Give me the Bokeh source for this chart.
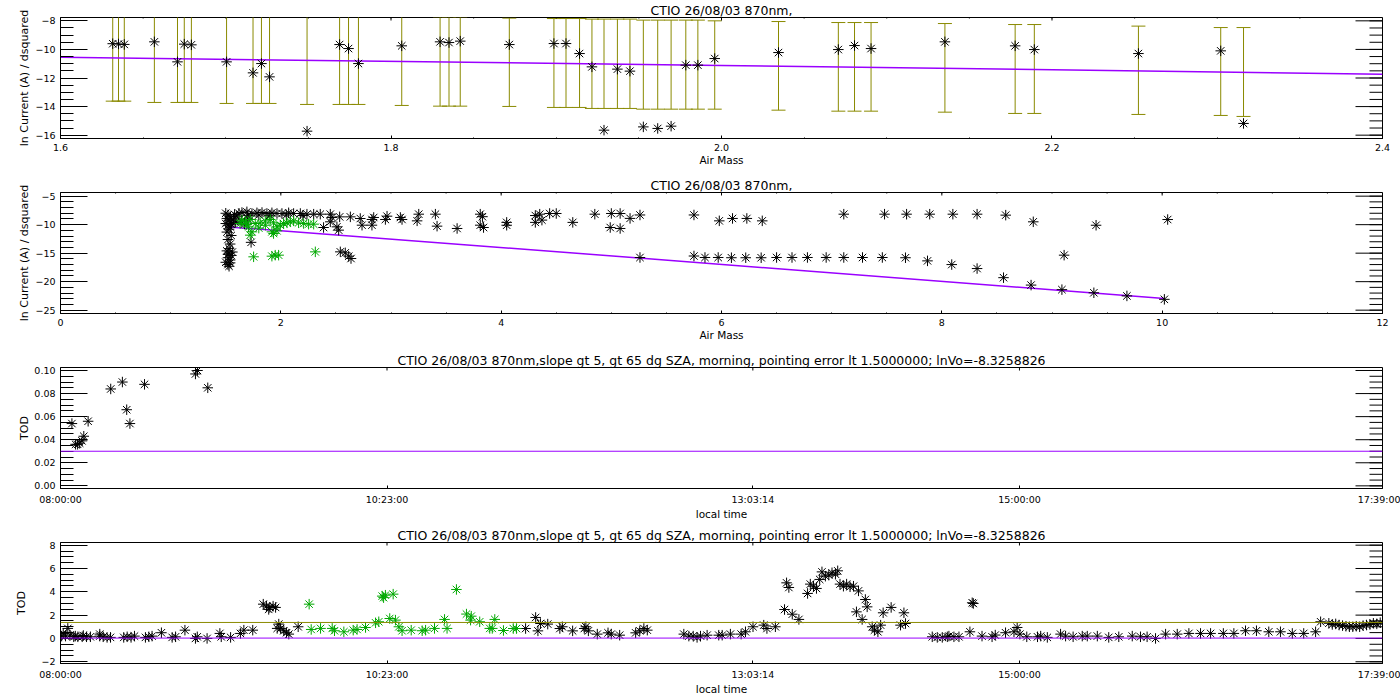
from bokeh.plotting import figure
from bokeh.models import (Range1d, Span, FixedTicker, SingleIntervalTicker, PrintfTickFormatter)
from bokeh.layouts import column
from bokeh.embed import file_html
from bokeh.resources import INLINE

# ---------------- texts ----------------
title_short = "CTIO 26/08/03 870nm,"
title_long = ("CTIO 26/08/03 870nm,slope gt 5, gt 65 dg SZA, morning, "
              "pointing error lt 1.5000000; lnVo=-8.3258826")
ylab_current = "ln Current (A) / dsquared"
xlab_airmass = "Air Mass"
ylab_tod = "TOD"
xlab_time = "local time"

# ---------------- panel 1: air mass vs ln current with error bars ----------------
am1 = [1.6316, 1.6351, 1.6386, 1.6568, 1.6708, 1.6749, 1.6792, 1.7005, 1.7165, 1.7216,
       1.7265, 1.7492, 1.7689, 1.7743, 1.7803, 1.8065, 1.8297, 1.8351, 1.8419, 1.8716,
       1.8986, 1.9059, 1.9141, 1.9216, 1.9289, 1.9370, 1.9446, 1.9527, 1.9614, 1.9695,
       1.9784, 1.9857, 1.9959, 2.0345, 2.0707, 2.0805, 2.0905, 2.1352, 2.1777, 2.1893,
       2.2523, 2.3021, 2.3159]
lnc1 = [-9.60, -9.62, -9.65, -9.47, -10.87, -9.63, -9.68, -10.87, -11.64, -10.99,
        -11.92, -15.72, -9.66, -9.94, -10.99, -9.75, -9.47, -9.52, -9.42, -9.66,
        -9.59, -9.59, -10.29, -11.22, -15.65, -11.38, -11.52, -15.42, -15.53, -15.37,
        -11.10, -11.10, -10.64, -10.22, -10.01, -9.73, -9.94, -9.47, -9.75, -10.01,
        -10.29, -10.10, -15.18]
bar_top1 = [-7.49, -7.49, -7.49, -7.49, -7.49, -7.56, -7.56, -7.56, -7.56, -7.60,
            -7.60, -7.63, -7.67, -7.67, -7.67, -7.67, -7.74, -7.74, -7.74, -7.81,
            -7.84, -7.84, -7.84, -7.88, -7.88, -7.88, -7.88, -7.95, -7.95, -7.95,
            -7.95, -7.95, -8.00, -8.05, -8.12, -8.12, -8.12, -8.19, -8.26, -8.26,
            -8.37, -8.47, -8.47]
bar_bot1 = [-13.62, -13.62, -13.62, -13.71, -13.71, -13.71, -13.71, -13.78, -13.78, -13.78,
            -13.78, -13.85, -13.85, -13.85, -13.85, -13.92, -13.97, -13.97, -13.97, -13.99,
            -14.06, -14.06, -14.06, -14.13, -14.13, -14.13, -14.13, -14.18, -14.18, -14.18,
            -14.18, -14.18, -14.18, -14.25, -14.32, -14.32, -14.32, -14.39, -14.48, -14.48,
            -14.55, -14.62, -14.69]
fit1_am = [1.60, 2.00, 2.40]
fit1_ln = [-10.55, -11.12, -11.73]

# ---------------- panel 2: full air mass range ----------------
black2 = [
    (1.50, -8.0), (1.52, -8.3), (1.54, -8.6), (1.51, -8.9), (1.53, -9.2), (1.55, -9.5),
    (1.50, -9.8), (1.52, -10.1), (1.54, -10.4), (1.53, -10.8), (1.51, -11.3), (1.55, -11.9),
    (1.52, -12.6), (1.54, -13.4), (1.53, -14.2), (1.51, -14.6), (1.53, -15.0), (1.55, -15.4),
    (1.52, -15.8), (1.54, -16.2), (1.50, -16.6), (1.52, -17.0), (1.53, -17.3), (1.56, -14.8),
    (1.52, -15.2), (1.54, -16.7), (1.55, -9.9), (1.58, -8.2), (1.60, -8.5), (1.57, -9.0),
    (1.59, -9.6), (1.62, -8.0), (1.64, -9.4), (1.67, -9.9), (1.70, -9.0), (1.73, -13.1),
    (1.647, -7.87), (1.692, -7.75), (1.738, -8.04), (1.783, -7.92), (1.829, -7.87),
    (1.874, -8.04), (1.919, -7.92), (1.965, -8.04), (2.010, -8.04), (2.071, -7.92),
    (2.116, -8.04), (2.177, -8.04), (2.237, -8.16), (2.298, -8.16), (2.358, -8.16),
    (2.449, -8.16), (2.464, -8.74), (2.534, -8.63), (2.631, -8.63), (2.721, -8.92),
    (2.827, -9.09), (2.843, -8.74), (2.964, -8.51), (3.085, -8.74), (3.100, -9.09),
    (3.252, -8.16), (3.403, -8.16), (3.418, -10.26), (2.388, -10.50), (2.449, -9.50),
    (2.509, -10.38), (2.525, -10.96), (2.737, -10.09), (2.827, -10.09), (2.949, -9.09),
    (3.237, -9.33), (1.70, -8.35), (1.80, -8.30), (1.90, -8.35), (2.05, -8.30), (2.20, -8.40),
    (2.540, -14.77), (2.585, -14.94), (2.616, -15.53), (2.637, -15.94),
    (3.60, -10.67), (3.81, -8.16), (3.81, -10.09), (3.83, -8.60), (3.84, -10.50),
    (4.05, -9.60), (4.05, -10.10), (4.31, -8.40), (4.31, -9.60), (4.35, -8.16),
    (4.37, -9.20), (4.44, -8.04), (4.50, -8.04), (4.65, -9.60), (4.85, -8.16),
    (5.00, -8.04), (5.08, -8.04), (4.99, -10.50), (5.08, -10.67), (5.17, -8.90),
    (5.26, -8.30), (5.26, -15.76), (5.75, -8.30), (5.75, -15.50),
    (5.98, -9.33), (6.10, -8.91), (6.23, -8.91), (6.37, -9.33),
    (5.85, -15.76), (5.97, -15.76), (6.09, -15.80), (6.22, -15.80), (6.36, -15.80),
    (6.50, -15.76), (6.64, -15.76), (6.78, -15.76), (6.95, -15.76), (7.11, -15.76),
    (7.28, -15.76), (7.46, -15.76), (7.67, -15.80), (7.87, -16.35), (8.09, -17.00),
    (8.32, -17.70), (8.56, -19.30), (8.81, -20.60), (9.09, -21.40), (9.38, -21.95),
    (9.68, -22.50), (10.02, -23.10),
    (7.11, -8.16), (7.48, -8.16), (7.68, -8.16), (7.89, -8.16), (8.10, -8.16),
    (8.32, -8.16), (8.58, -8.33), (8.83, -9.50), (9.40, -10.10), (10.05, -9.10), (9.11, -15.35),
]
green2 = [
    (1.647, -9.21), (1.677, -9.50), (1.722, -9.09), (1.768, -9.80), (1.813, -9.68),
    (1.859, -9.33), (1.904, -9.09), (1.934, -9.68), (1.965, -10.38), (1.995, -10.09),
    (2.025, -9.80), (2.056, -9.68), (2.086, -9.50), (2.116, -9.33), (2.161, -9.68),
    (2.207, -9.80), (2.252, -9.91), (2.298, -9.91), (1.707, -10.38), (1.738, -11.26),
    (1.722, -11.84), (1.919, -11.26), (1.934, -11.55), (1.965, -11.08), (1.753, -15.64),
    (1.919, -15.53), (1.949, -15.35), (1.980, -15.35), (2.313, -14.77),
    (1.63, -9.80), (1.69, -10.00), (1.80, -10.60), (1.86, -10.10),
]
fit2_am = [1.52, 2.00, 5.25, 10.02]
fit2_ln = [-10.40, -11.05, -15.85, -22.95]

# ---------------- panel 3: TOD vs local time (minutes after 08:00:00) ----------------
t3_min = [5.0, 6.6, 7.5, 8.4, 9.4, 10.2, 12.1, 22.0, 27.1, 29.0, 30.4, 36.8, 59.1, 60.0, 64.5]
tod3 = [0.054, 0.036, 0.036, 0.037, 0.039, 0.043, 0.056, 0.084, 0.090, 0.066,
        0.054, 0.088, 0.097, 0.100, 0.085]
tod_ref_level = 0.03

# ---------------- panel 4: TOD vs local time (minutes after 08:00:00) ----------------
black4 = [
    (0.5, 0.20), (1.2, 0.43), (2.2, 0.20), (3.2, 0.86), (4.1, 0.29), (5.8, 0.14), (6.5, 0.20),
    (7.6, 0.14), (9.5, 0.14), (10.0, 0.25), (11.4, 0.14), (13.1, 0.14), (17.2, 0.20), (17.2, 0.37),
    (18.7, 0.14), (20.4, 0.09), (21.9, 0.09), (27.7, 0.09), (29.2, 0.14), (30.9, 0.09), (32.4, 0.20),
    (37.2, 0.09), (38.7, 0.14), (40.1, 0.20), (44.2, 0.49), (48.9, 0.09), (50.4, 0.14), (54.5, 0.71),
    (59.1, 0.00), (59.9, 0.14), (64.2, 0.00), (69.8, 0.43), (70.4, 0.14), (74.5, 0.09), (78.8, 0.43),
    (80.3, 0.71), (84.2, 0.71), (88.8, 2.94), (90.2, 2.77), (91.2, 2.49), (91.7, 2.66), (93.1, 2.77),
    (94.2, 2.66), (94.9, 0.86), (95.6, 1.23), (96.4, 0.86), (97.8, 0.66), (99.0, 0.49), (100.0, 0.37),
    (104.1, 1.00),
    (203.7, 0.85), (208.1, 1.80), (209.1, 0.65), (210.2, 1.28), (213.4, 1.23), (218.7, 0.85),
    (219.8, 1.00), (224.3, 0.65), (229.4, 0.85), (230.1, 1.00), (231.2, 0.65), (235.1, 0.37),
    (239.8, 0.48), (241.2, 0.37), (244.9, 0.28), (251.9, 0.48), (253.7, 0.65), (255.5, 0.85),
    (257.0, 0.71), (273.0, 0.37), (275.2, 0.20), (277.1, 0.20), (278.8, 0.09), (280.3, 0.20),
    (283.2, 0.28), (288.3, 0.28), (289.8, 0.28), (293.4, 0.37), (298.1, 0.37), (300.0, 0.57),
    (303.3, 1.00), (308.0, 1.14), (309.4, 0.85), (313.1, 1.00), (317.1, 2.48), (318.0, 4.77),
    (319.0, 4.37), (320.5, 2.08), (323.4, 1.63), (327.2, 3.86), (328.4, 4.66), (329.8, 4.48),
    (331.1, 4.29), (332.5, 5.06), (333.5, 5.71), (335.0, 5.34), (336.5, 5.43), (337.9, 5.63),
    (339.4, 5.51), (340.4, 5.80), (341.4, 4.66), (342.9, 4.48), (344.3, 4.66), (345.8, 4.43),
    (347.3, 4.48), (348.6, 2.28), (349.5, 4.08), (351.1, 1.63), (352.5, 3.34), (353.3, 2.71),
    (355.5, 1.00), (356.5, 0.71), (358.0, 0.57), (359.2, 1.14), (360.3, 2.20), (363.8, 2.66),
    (367.9, 1.14), (369.4, 2.20), (370.1, 1.28), (381.8, 0.14), (384.0, 0.09), (386.2, 0.09),
    (388.4, 0.14), (389.1, 0.20), (391.3, 0.14), (393.5, 0.14), (398.3, 0.57), (399.3, 3.06),
    (399.8, 3.00), (403.6, 0.20), (408.0, 0.14), (409.4, 0.29), (413.9, 0.49), (417.6, 0.57),
    (419.0, 0.94), (420.2, 0.37), (423.2, 0.14), (427.9, 0.14), (429.3, 0.20), (432.2, 0.09),
    (438.0, 0.37), (440.2, 0.20), (443.5, 0.14), (447.5, 0.20), (449.7, 0.20), (454.1, 0.20),
    (459.1, 0.09), (463.5, 0.14), (469.4, 0.20), (473.0, 0.14), (475.9, 0.14), (479.6, 0.00),
    (484.0, 0.37), (489.1, 0.37), (494.2, 0.43), (499.3, 0.43), (503.7, 0.43), (509.3, 0.43),
    (513.9, 0.43), (519.0, 0.66), (523.8, 0.66), (529.2, 0.57), (534.3, 0.57), (539.5, 0.43),
    (544.5, 0.43), (549.7, 0.57), (551.9, 1.43), (555.5, 1.30), (557.0, 1.20), (558.5, 1.25),
    (560.0, 1.15), (561.5, 1.10), (563.0, 1.05), (564.5, 1.00), (566.0, 1.00), (567.5, 1.05),
    (569.0, 1.00), (570.5, 1.10), (572.0, 1.15), (573.5, 1.20), (575.0, 1.30), (576.5, 1.25),
    (578.0, 1.35),
]
green4 = [
    (108.9, 2.94), (109.8, 0.77), (113.9, 0.86), (119.0, 0.86), (120.0, 0.66), (124.1, 0.57),
    (128.2, 0.71), (129.9, 0.77), (133.6, 0.94), (138.0, 1.34), (139.4, 1.43), (140.9, 3.63),
    (141.5, 3.50), (142.3, 3.71), (145.7, 3.80), (144.2, 1.71), (146.7, 1.57), (148.2, 1.00),
    (149.6, 0.66), (153.6, 0.71), (158.4, 0.66), (159.9, 0.71), (163.8, 0.86), (168.2, 1.63),
    (169.3, 0.86), (173.4, 4.20), (177.8, 2.09), (179.6, 1.57), (179.9, 1.91), (183.6, 1.43),
    (188.0, 0.86), (189.1, 0.86), (190.2, 1.63), (194.0, 0.68), (198.3, 0.85), (199.7, 0.85),
]
olive_level = 1.37

# time axis ticks (seconds after 08:00:00)
time_tick_sec = [0, 8580, 18194, 25200, 34740]
time_tick_labels = ["08:00:00", "10:23:00", "13:03:14", "15:00:00", "17:39:00"]

# ---------------- styling ----------------
FONT = "DejaVu Sans"
W = 1400
FW, FH = 1322, 121          # frame size in pixels
PURPLE = "#9a00ff"
OLIVE = "#8a8a00"
GREEN = "#00a800"
Y_TICK, Y_MINOR = 27, 13
X_TICK, X_MINOR = 3, 1


def tick_values(start, stop, step):
    n = int(round((stop - start) / step))
    return [round(start + i * step, 6) for i in range(n + 1)]


def base_fig(title, xr, yr):
    p = figure(width=W, height=175,
               x_range=Range1d(xr[0], xr[1]), y_range=Range1d(yr[0], yr[1]),
               output_backend="svg", toolbar_location=None, tools="",
               min_border_left=60, min_border_right=18,
               min_border_top=17, min_border_bottom=37)
    p.xgrid.visible = False
    p.ygrid.visible = False
    p.outline_line_color = "black"
    p.outline_line_width = 1
    p.background_fill_color = "white"
    p.border_fill_color = "white"
    p.title.text = title
    p.title.align = "center"
    p.title.text_font = FONT
    p.title.text_font_size = "12.5px"
    p.title.text_font_style = "normal"
    p.title.text_color = "black"
    p.title.standoff = 0
    p.title.offset = 0
    return p


def style_axes(p, xticker, yticker, xlab, ylab, ylab_standoff, xfmt=None, yfmt=None, xover=None):
    xa = p.xaxis[0]
    ya = p.yaxis[0]
    xa.ticker = xticker
    ya.ticker = yticker
    if xfmt is not None:
        xa.formatter = xfmt
    if yfmt is not None:
        ya.formatter = yfmt
    if xover is not None:
        xa.major_label_overrides = xover
    for ax, tin, mtin in ((xa, X_TICK, X_MINOR), (ya, Y_TICK, Y_MINOR)):
        ax.axis_line_color = "black"
        ax.major_tick_line_color = "black"
        ax.minor_tick_line_color = "black"
        ax.major_tick_in = tin
        ax.major_tick_out = 0
        ax.minor_tick_in = mtin
        ax.minor_tick_out = 0
        ax.major_label_text_font = FONT
        ax.major_label_text_font_size = "9.5px"
        ax.major_label_text_color = "black"
        ax.major_label_standoff = 5
        ax.axis_label_text_font = FONT
        ax.axis_label_text_font_style = "normal"
        ax.axis_label_text_color = "black"
    xa.axis_label = xlab
    xa.axis_label_text_font_size = "10.5px"
    xa.axis_label_standoff = 0
    ya.axis_label = ylab
    ya.axis_label_text_font_size = "11px"
    ya.axis_label_standoff = ylab_standoff


def mirror_ticks(p, xr, yr, xmaj, xmin, ymaj, ymin):
    # tick marks along the right and top edges of the frame, pointing inwards
    dx = (xr[1] - xr[0]) / FW   # data units per pixel
    dy = (yr[1] - yr[0]) / FH
    for vals, ln in ((ymaj, Y_TICK), (ymin, Y_MINOR)):
        if vals:
            p.segment(x0=[xr[1]] * len(vals), y0=vals, x1=[xr[1] - ln * dx] * len(vals), y1=vals,
                      line_color="black", line_width=1)
    for vals, ln in ((xmaj, X_TICK), (xmin, X_MINOR)):
        if vals:
            p.segment(x0=vals, y0=[yr[1]] * len(vals), x1=vals, y1=[yr[1] - ln * dy] * len(vals),
                      line_color="black", line_width=1)


def star(p, xs, ys, color):
    p.scatter(xs, ys, marker="asterisk", size=10.5, line_color=color, line_width=1)


# ---------------- panel 1 ----------------
xr1, yr1 = (1.6 - 1e-6, 2.4 + 1e-6), (-16.233, -7.767)
p1 = base_fig(title_short, xr1, yr1)
p1.segment(x0=am1, y0=bar_bot1, x1=am1, y1=bar_top1, line_color=OLIVE, line_width=1)
p1.scatter(am1, bar_top1, marker="dash", size=14, line_color=OLIVE, line_width=1)
p1.scatter(am1, bar_bot1, marker="dash", size=14, line_color=OLIVE, line_width=1)
p1.line(fit1_am, fit1_ln, line_color=PURPLE, line_width=1.5)
star(p1, am1, lnc1, "black")
style_axes(p1, SingleIntervalTicker(interval=0.2, num_minor_ticks=4),
           SingleIntervalTicker(interval=2, num_minor_ticks=4),
           xlab_airmass, ylab_current, 1, xfmt=PrintfTickFormatter(format="%.1f"))
mirror_ticks(p1, xr1, yr1, tick_values(1.6, 2.4, 0.2), tick_values(1.6, 2.4, 0.05),
             tick_values(-16, -8, 2), tick_values(-16, -8, 0.5))

# ---------------- panel 2 ----------------
xr2, yr2 = (0 - 1e-6, 12 + 1e-6), (-25.585, -4.357)
p2 = base_fig(title_short, xr2, yr2)
p2.line(fit2_am, fit2_ln, line_color=PURPLE, line_width=1.5)
star(p2, [a for a, _ in black2], [v for _, v in black2], "black")
star(p2, [a for a, _ in green2], [v for _, v in green2], GREEN)
style_axes(p2, SingleIntervalTicker(interval=2, num_minor_ticks=4),
           SingleIntervalTicker(interval=5, num_minor_ticks=5),
           xlab_airmass, ylab_current, 1)
mirror_ticks(p2, xr2, yr2, tick_values(0, 12, 2), tick_values(0, 12, 0.5),
             tick_values(-25, -5, 5), tick_values(-25, -5, 1))

# ---------------- panel 3 ----------------
tick_over = {s: lab for s, lab in zip(time_tick_sec, time_tick_labels)}
xr3, yr3 = (-0.001, 34740.001), (-0.0023, 0.1026)
p3 = base_fig(title_long, xr3, yr3)
p3.add_layout(Span(location=tod_ref_level, dimension="width", line_color=PURPLE, line_width=1))
star(p3, [t * 60 for t in t3_min], tod3, "black")
style_axes(p3, FixedTicker(ticks=time_tick_sec, minor_ticks=[]),
           SingleIntervalTicker(interval=0.02, num_minor_ticks=4),
           xlab_time, ylab_tod, 0, yfmt=PrintfTickFormatter(format="%.2f"), xover=tick_over)
mirror_ticks(p3, xr3, yr3, time_tick_sec, [],
             tick_values(0, 0.1, 0.02), tick_values(0, 0.1, 0.005))

# ---------------- panel 4 ----------------
xr4, yr4 = (-0.001, 34740.001), (-2.15, 8.23)
p4 = base_fig(title_long, xr4, yr4)
star(p4, [t * 60 for t, _ in black4], [v for _, v in black4], "black")
star(p4, [t * 60 for t, _ in green4], [v for _, v in green4], GREEN)
p4.add_layout(Span(location=olive_level, dimension="width", line_color=OLIVE, line_width=1))
p4.add_layout(Span(location=tod_ref_level, dimension="width", line_color=PURPLE, line_width=1))
style_axes(p4, FixedTicker(ticks=time_tick_sec, minor_ticks=[]),
           SingleIntervalTicker(interval=2, num_minor_ticks=4),
           xlab_time, ylab_tod, 10, xover=tick_over)
mirror_ticks(p4, xr4, yr4, time_tick_sec, [],
             tick_values(-2, 8, 2), tick_values(-2, 8, 0.5))

layout = column(p1, p2, p3, p4, spacing=0)
open("out.html", "w").write(file_html(layout, INLINE))
